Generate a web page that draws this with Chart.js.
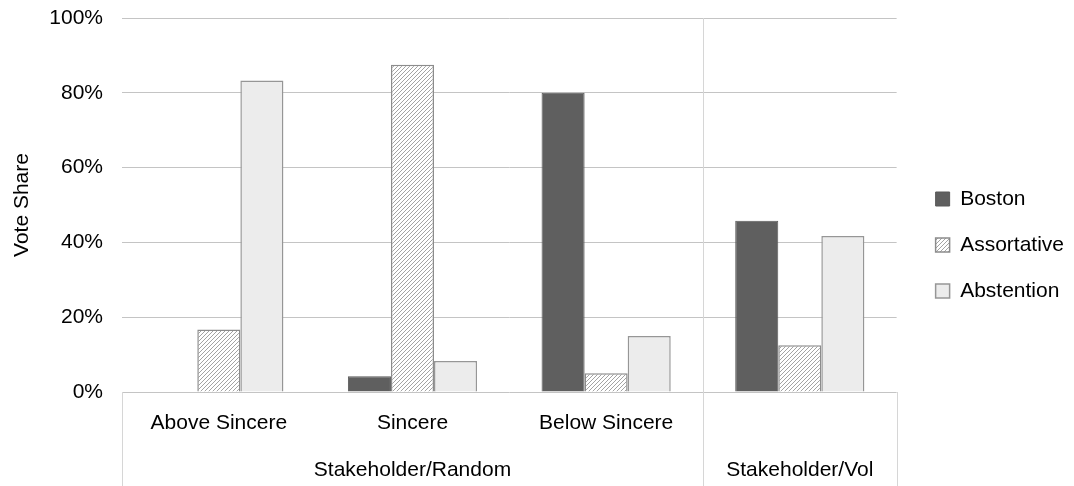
<!DOCTYPE html>
<html>
<head>
<meta charset="utf-8">
<script src="https://cdn.jsdelivr.net/npm/chart.js@4.4.1/dist/chart.umd.min.js"></script>
<style>
  html, body { margin: 0; padding: 0; background: #fff; }
  #wrap { width: 1074px; height: 486px; position: relative; }
</style>
</head>
<body>
<div id="wrap"><canvas id="voteChart"></canvas></div>
<script>
// 数据
const categories = ['Above Sincere', 'Sincere', 'Below Sincere', ''];
const groupLabels = ['Stakeholder/Random', 'Stakeholder/Vol'];
const groupSizes = [3, 1];
const seriesNames = ['Boston', 'Assortative', 'Abstention'];
const bostonValues = [0, 4.2, 80.0, 45.8];
const assortativeValues = [16.7, 87.5, 5.0, 12.5];
const abstentionValues = [83.3, 8.3, 15.0, 41.7];
const yTicks = [0, 20, 40, 60, 80, 100];

Chart.defaults.font.family = '"Liberation Sans", Arial, sans-serif';
Chart.defaults.font.size = 21;
Chart.defaults.color = '#000';

// 分组中心和分隔线位置
const groupCenters = [];
const groupBounds = [-0.5];
let start = 0;
groupSizes.forEach(n => {
    groupCenters.push(start + (n - 1) / 2);
    start += n;
    groupBounds.push(start - 0.5);
});

// 斜线填充
function makeHatch() {
    const s = 4;
    const c = document.createElement('canvas');
    c.width = s; c.height = s;
    const g = c.getContext('2d');
    g.fillStyle = '#fff';
    g.fillRect(0, 0, s, s);
    g.strokeStyle = '#a3a3a3';
    g.lineWidth = 1;
    g.beginPath();
    g.moveTo(0, s); g.lineTo(s, 0);
    g.moveTo(-1, 1); g.lineTo(1, -1);
    g.moveTo(s - 1, s + 1); g.lineTo(s + 1, s - 1);
    g.stroke();
    return g.createPattern(c, 'repeat');
}

// 分组分隔线
const groupLines = {
    id: 'groupLines',
    afterDraw(chart) {
        const x2 = chart.scales.x2;
        const area = chart.chartArea;
        const ctx = chart.ctx;
        ctx.save();
        ctx.strokeStyle = '#d6d6d6';
        ctx.lineWidth = 1;
        groupBounds.forEach((b, i) => {
            const px = Math.round(x2.getPixelForValue(b)) + 0.5;
            const top = (i === 0 || i === groupBounds.length - 1) ? area.bottom : area.top;
            ctx.beginPath();
            ctx.moveTo(px, top);
            ctx.lineTo(px, chart.height);
            ctx.stroke();
        });
        ctx.restore();
    }
};

const ctx = document.getElementById('voteChart').getContext('2d');
new Chart(ctx, {
    type: 'bar',
    data: {
        labels: categories,
        datasets: [{
            label: seriesNames[0],
            data: bostonValues,
            backgroundColor: '#5f5f5f',
            borderColor: '#595959',
            borderWidth: 1
        }, {
            label: seriesNames[1],
            data: assortativeValues,
            backgroundColor: makeHatch(),
            borderColor: '#8c8c8c',
            borderWidth: 1.5
        }, {
            label: seriesNames[2],
            data: abstentionValues,
            backgroundColor: '#ececec',
            borderColor: '#969696',
            borderWidth: 1.5
        }]
    },
    options: {
        responsive: true,
        maintainAspectRatio: false,
        animation: false,
        categoryPercentage: 0.667,
        barPercentage: 1.0,
        layout: {
            padding: { top: 8, right: 0, bottom: 4, left: 0 }
        },
        plugins: {
            legend: {
                position: 'right',
                labels: {
                    boxWidth: 14,
                    boxHeight: 14,
                    padding: 25,
                    color: '#000'
                }
            },
            tooltip: { enabled: false }
        },
        scales: {
            y: {
                min: 0,
                max: 100,
                afterBuildTicks: scale => { scale.ticks = yTicks.map(v => ({ value: v })); },
                afterFit: scale => {
                    scale.width = 122;
                    scale.paddingTop = 18;
                    scale.paddingBottom = 13;
                },
                ticks: {
                    padding: 19,
                    callback: v => v + '%'
                },
                grid: { color: '#c4c4c4', drawTicks: false },
                border: { display: false },
                title: {
                    display: true,
                    text: 'Vote Share',
                    padding: { top: 10, bottom: 0 }
                }
            },
            yPad: {
                position: 'right',
                grid: { display: false },
                border: { display: false },
                ticks: { display: false },
                afterFit: scale => { scale.width = 14; }
            },
            x: {
                grid: { display: false, drawTicks: false },
                border: { display: false },
                ticks: {
                    padding: 19,
                    maxRotation: 0,
                    autoSkip: false
                },
                afterFit: scale => { scale.height = 43; }
            },
            x2: {
                type: 'linear',
                position: 'bottom',
                min: -0.5,
                max: 3.5,
                offset: false,
                grid: { display: false, drawTicks: false, offset: false },
                border: { display: false },
                afterBuildTicks: scale => { scale.ticks = groupCenters.map(v => ({ value: v })); },
                ticks: {
                    padding: 23,
                    maxRotation: 0,
                    autoSkip: false,
                    callback: (v, i) => groupLabels[i]
                },
                afterFit: scale => { scale.height = 47; }
            }
        }
    },
    plugins: [groupLines]
});
</script>
</body>
</html>
